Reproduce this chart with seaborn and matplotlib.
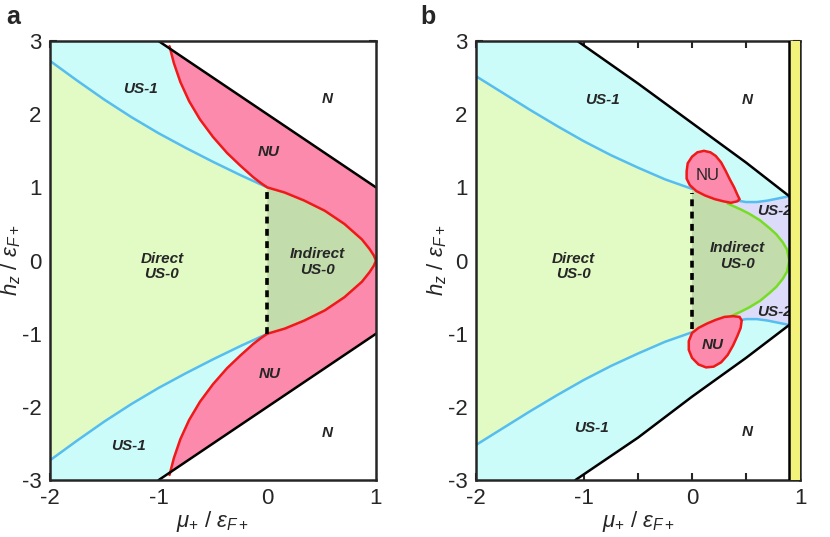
import matplotlib
matplotlib.use("Agg")
import matplotlib.pyplot as plt
import seaborn as sns

# ---- panel a: phase boundaries (mu+/eF+, hz/eF+) ----
mu_blue_a = [-2.0, -1.75, -1.5, -1.25, -1.0, -0.75, -0.5, -0.25, 0.0]
hz_blue_a = [2.73, 2.46, 2.2, 1.96, 1.74, 1.54, 1.35, 1.17, 1.0]
mu_red_a = [-0.9, -0.86, -0.8, -0.72, -0.62, -0.5, -0.37, -0.25, -0.13, -0.06, 0.0,
            0.16, 0.34, 0.53, 0.71, 0.87, 0.94, 0.98, 1.0]
hz_red_a = [2.93, 2.7, 2.44, 2.18, 1.93, 1.69, 1.47, 1.3, 1.14, 1.06, 1.0,
            0.93, 0.82, 0.68, 0.5, 0.29, 0.16, 0.07, 0.0]
i_join_a = 10   # index of the (0, 1) junction in the red curve
mu_black_a = [-1.0, 1.0]
hz_black_a = [3.0, 1.0]

# ---- panel b ----
mu_blue_b = [-2.0, -1.75, -1.5, -1.25, -1.0, -0.75, -0.5, -0.25, 0.0]
hz_blue_b = [2.52, 2.29, 2.06, 1.84, 1.63, 1.44, 1.27, 1.11, 0.98]
mu_blue_b_right = [0.42, 0.5, 0.6, 0.7, 0.8, 0.9]
hz_blue_b_right = [0.82, 0.8, 0.8, 0.82, 0.85, 0.88]
mu_green_b = [0.33, 0.45, 0.53, 0.63, 0.72, 0.78, 0.84, 0.88, 0.9]
hz_green_b = [0.78, 0.7, 0.64, 0.55, 0.44, 0.36, 0.25, 0.15, 0.0]
mu_black_b_up = [-1.06, -0.5, 0.0, 0.5, 0.9]
hz_black_b_up = [3.0, 2.42, 1.88, 1.34, 0.88]
mu_black_b_lo = [-1.08, -0.5, 0.0, 0.5, 0.9]
hz_black_b_lo = [-3.0, -2.42, -1.86, -1.33, -0.88]
mu_nu_up = [-0.05, -0.04, 0.0, 0.05, 0.11, 0.17, 0.22, 0.27, 0.31, 0.35, 0.39,
            0.42, 0.44, 0.42, 0.36, 0.29, 0.21, 0.12, 0.04, -0.02, -0.05]
hz_nu_up = [1.22, 1.33, 1.42, 1.48, 1.5, 1.48, 1.43, 1.34, 1.23, 1.11, 1.0,
            0.9, 0.84, 0.81, 0.79, 0.81, 0.84, 0.89, 0.95, 1.03, 1.12]
mu_nu_lo = [0.46, 0.45, 0.42, 0.38, 0.33, 0.27, 0.2, 0.13, 0.06, 0.0, -0.03,
            -0.03, 0.0, 0.06, 0.14, 0.22, 0.3, 0.38, 0.44]
hz_nu_lo = [-0.82, -0.92, -1.03, -1.16, -1.29, -1.39, -1.45, -1.46, -1.42, -1.33, -1.22,
            -1.1, -0.99, -0.92, -0.86, -0.81, -0.77, -0.76, -0.77]
mu_gap = 0.9   # edge of the yellow strip

C_CYAN = "#ccfcfa"
C_LGREEN = "#e2fbc5"
C_DGREEN = "#c2dcab"
C_PINK = "#fc8aac"
C_LAV = "#dcdcfa"
C_YELLOW = "#f3f37c"
C_BLUE = "#55bdf0"
C_RED = "#f01818"
C_GREEN = "#77dd22"
LW = 1.8

sns.set_style("ticks")
plt.rcParams["font.family"] = ["Liberation Sans", "DejaVu Sans"]
plt.rcParams["mathtext.fontset"] = "custom"
plt.rcParams["mathtext.rm"] = "Liberation Sans"
plt.rcParams["mathtext.it"] = "Liberation Sans:italic"
plt.rcParams["axes.unicode_minus"] = False


def neg(v):
    return [-x for x in v]


def line(ax, x, y, color, lw=LW, **kw):
    sns.lineplot(x=x, y=y, sort=False, estimator=None, color=color, lw=lw, ax=ax, **kw)


def label(ax, x, y, s, style="italic", weight="bold", size=11, **kw):
    ax.text(x, y, s, ha="center", va="center", style=style, weight=weight,
            size=size, linespacing=1.15, **kw)


def style_axes(ax):
    ax.set_xlim(-2, 1)
    ax.set_ylim(-3, 3)
    ax.set_xticks([-2, -1, 0, 1])
    ax.set_xticks([-1.5, -0.5, 0.5], minor=True)
    ax.set_yticks([-3, -2, -1, 0, 1, 2, 3])
    ax.tick_params(which="both", direction="in", top=True, right=True,
                   length=5, width=1.5, labelsize=16, pad=6)
    for s in ax.spines.values():
        s.set_linewidth(1.8)
    ax.set_xlabel(r"$\mu_{+}\ /\ \varepsilon_{F+}$", size=16, labelpad=0)
    ax.set_ylabel(r"$h_{z}\ /\ \varepsilon_{F+}$", size=16)
    ax.yaxis.set_label_coords(-0.083, 0.5)


fig = plt.figure(figsize=(8.3, 5.37), dpi=100)
ax_a = fig.add_axes([0.0602, 0.106, 0.3928, 0.8175])
ax_b = fig.add_axes([0.5735, 0.106, 0.3904, 0.8175])

# ================= panel a =================
ax = ax_a
ax.fill(mu_blue_a + [0, -2], hz_blue_a + [3, 3], color=C_CYAN, lw=0)
ax.fill(mu_blue_a + [0, -2], neg(hz_blue_a) + [-3, -3], color=C_CYAN, lw=0)
ax.fill_between(mu_blue_a, neg(hz_blue_a), hz_blue_a, color=C_LGREEN, lw=0)
mu_r, hz_r = mu_red_a[i_join_a:], hz_red_a[i_join_a:]
ax.fill(mu_r + mu_r[::-1], hz_r + neg(hz_r[::-1]), color=C_DGREEN, lw=0)
ax.fill(mu_red_a + [1.0, -0.93], hz_red_a + [1.0, 2.93], color=C_PINK, lw=0)
ax.fill(mu_red_a + [1.0, -0.93], neg(hz_red_a) + [-1.0, -2.93], color=C_PINK, lw=0)
ax.fill([-1, 1, 1], [3, 1, 3], color="white", lw=0)
ax.fill([-1, 1, 1], [-3, -1, -3], color="white", lw=0)

line(ax, mu_blue_a, hz_blue_a, C_BLUE)
line(ax, mu_blue_a, neg(hz_blue_a), C_BLUE)
line(ax, mu_red_a, hz_red_a, C_RED)
line(ax, mu_red_a, neg(hz_red_a), C_RED)
line(ax, mu_black_a, hz_black_a, "black")
line(ax, mu_black_a, neg(hz_black_a), "black")
ax.plot([0, 0], [-1, 1], color="black", lw=2.6, ls=(0, (1.9, 1.5)))

label(ax, -1.17, 2.34, "US-1")
label(ax, 0.55, 2.21, "N")
label(ax, 0.01, 1.49, "NU")
label(ax, -0.97, -0.08, "Direct\nUS-0")
label(ax, 0.46, -0.02, "Indirect\nUS-0")
label(ax, 0.02, -1.55, "NU")
label(ax, -1.28, -2.53, "US-1")
label(ax, 0.55, -2.36, "N")
style_axes(ax)

# ================= panel b =================
ax = ax_b
band_x = [-2] + mu_black_b_up + mu_black_b_lo[::-1] + [-2]
band_y = [3] + hz_black_b_up + hz_black_b_lo[::-1] + [-3]
ax.fill(band_x, band_y, color=C_CYAN, lw=0)
ax.fill([0.3] + mu_blue_b_right + mu_blue_b_right[::-1] + [0.3],
        [0.8] + hz_blue_b_right + neg(hz_blue_b_right[::-1]) + [-0.8],
        color=C_LAV, lw=0)
ax.fill_between(mu_blue_b, neg(hz_blue_b), hz_blue_b, color=C_LGREEN, lw=0)
ax.fill([0] + mu_green_b + mu_green_b[::-1] + [0],
        [0.97] + hz_green_b + neg(hz_green_b[::-1]) + [-0.97],
        color=C_DGREEN, lw=0)

line(ax, mu_blue_b, hz_blue_b, C_BLUE)
line(ax, mu_blue_b, neg(hz_blue_b), C_BLUE)
line(ax, mu_blue_b_right, hz_blue_b_right, C_BLUE)
line(ax, mu_blue_b_right, neg(hz_blue_b_right), C_BLUE)
line(ax, mu_green_b, hz_green_b, C_GREEN)
line(ax, mu_green_b, neg(hz_green_b), C_GREEN)
line(ax, mu_black_b_up, hz_black_b_up, "black")
line(ax, mu_black_b_lo, hz_black_b_lo, "black")
ax.plot([0, 0], [-0.93, 0.93], color="black", lw=2.6, ls=(0, (1.9, 1.5)))

ax.fill(mu_nu_up, hz_nu_up, facecolor=C_PINK, edgecolor=C_RED, lw=LW, zorder=3)
ax.fill(mu_nu_lo, hz_nu_lo, facecolor=C_PINK, edgecolor=C_RED, lw=LW, zorder=3)

label(ax, -0.83, 2.2, "US-1")
label(ax, 0.51, 2.2, "N")
label(ax, 0.14, 1.16, "NU", style="normal", weight="normal", size=12, zorder=4)
label(ax, -1.1, -0.08, "Direct\nUS-0")
label(ax, 0.42, 0.06, "Indirect\nUS-0")
label(ax, 0.19, -1.16, "NU", zorder=4)
label(ax, -0.93, -2.29, "US-1")
label(ax, 0.51, -2.34, "N")
ax.text(0.6, 0.68, "US-2", ha="left", va="center", style="italic",
        weight="bold", size=11, zorder=4)
ax.text(0.6, -0.7, "US-2", ha="left", va="center", style="italic",
        weight="bold", size=11, zorder=4)

ax.axvspan(mu_gap, 1.0, color=C_YELLOW, lw=0, zorder=5)
ax.axvline(mu_gap, color="black", lw=1.8, zorder=6)
style_axes(ax)

fig.text(0.008, 0.955, "a", weight="bold", size=18, va="baseline")
fig.text(0.506, 0.955, "b", weight="bold", size=18, va="baseline")

fig.savefig("out.png", dpi=100)
